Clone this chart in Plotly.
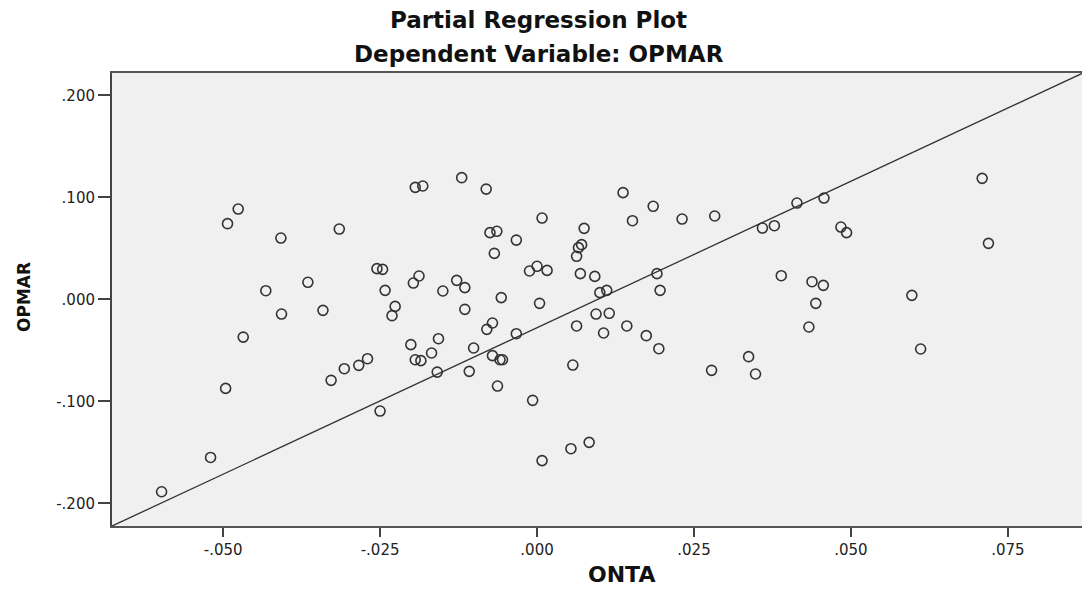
import plotly.graph_objects as go

# Partial regression residuals
onta = [-0.0476, -0.0493, -0.0408, -0.0432, -0.0407, -0.0468, -0.0496, -0.0520, -0.0598,
        -0.0315, -0.0194, -0.0182, -0.0120, -0.0081, 0.0008, -0.0075, -0.0064, -0.0033,
        -0.0068, -0.0365, -0.0255, -0.0246, -0.0188, -0.0197, -0.0242, -0.0128, -0.0115,
        -0.0150, -0.0057, 0.0004, -0.0012, 0.0000, 0.0016, -0.0341, -0.0226, -0.0231,
        -0.0115, 0.0063, -0.0071, -0.0080, -0.0033, -0.0201, -0.0157, -0.0168, -0.0101,
        -0.0270, -0.0284, -0.0307, -0.0328, -0.0194, -0.0185, -0.0071, -0.0059, -0.0055,
        -0.0159, -0.0108, -0.0063, 0.0057, -0.0007, -0.0250, 0.0054, 0.0008, 0.0137,
        0.0185, 0.0152, 0.0231, 0.0283, 0.0075, 0.0071, 0.0066, 0.0063, 0.0069, 0.0092,
        0.0191, 0.0100, 0.0111, 0.0196, 0.0359, 0.0378, 0.0414, 0.0457, 0.0484, 0.0493,
        0.0389, 0.0438, 0.0456, 0.0444, 0.0094, 0.0115, 0.0106, 0.0143, 0.0174, 0.0194,
        0.0433, 0.0278, 0.0337, 0.0348, 0.0083, 0.0709, 0.0719, 0.0597, 0.0611]
opmar = [0.0885, 0.0742, 0.0601, 0.0085, -0.0144, -0.0370, -0.0873, -0.1550, -0.1886,
         0.0689, 0.1098, 0.1111, 0.1193, 0.1081, 0.0797, 0.0654, 0.0667, 0.0581,
         0.0451, 0.0167, 0.0301, 0.0294, 0.0229, 0.0160, 0.0088, 0.0186, 0.0115,
         0.0082, 0.0017, -0.0039, 0.0278, 0.0324, 0.0284, -0.0108, -0.0069, -0.0160,
         -0.0098, -0.0261, -0.0232, -0.0294, -0.0337, -0.0444, -0.0386, -0.0526, -0.0477,
         -0.0582, -0.0647, -0.0680, -0.0794, -0.0592, -0.0601, -0.0552, -0.0592, -0.0592,
         -0.0713, -0.0706, -0.0850, -0.0644, -0.0990, -0.1095, -0.1464, -0.1581, 0.1046,
         0.0912, 0.0771, 0.0787, 0.0817, 0.0696, 0.0536, 0.0507, 0.0422, 0.0252, 0.0225,
         0.0252, 0.0066, 0.0088, 0.0088, 0.0699, 0.0722, 0.0944, 0.0993, 0.0709, 0.0654,
         0.0232, 0.0173, 0.0137, -0.0039, -0.0144, -0.0137, -0.0330, -0.0261, -0.0356, -0.0484,
         -0.0271, -0.0696, -0.0562, -0.0732, -0.1402, 0.1186, 0.0549, 0.0039, -0.0487]

# Fit line as drawn in the reference
fit_slope = 2.872
fit_intercept = -0.0278

x_range = [-0.0677, 0.0868]
y_range = [-0.2222, 0.2219]

x_tickvals = [-0.050, -0.025, 0.000, 0.025, 0.050, 0.075]
x_ticktext = ["-.050", "-.025", ".000", ".025", ".050", ".075"]
y_tickvals = [-0.200, -0.100, 0.000, 0.100, 0.200]
y_ticktext = ["-.200", "-.100", ".000", ".100", ".200"]

title_text = "Partial Regression Plot"
subtitle_text = "Dependent Variable: OPMAR"
x_title = "ONTA"
y_title = "OPMAR"

line_x = x_range
line_y = [fit_intercept + fit_slope * v for v in line_x]

fig = go.Figure()
fig.add_trace(go.Scatter(
    x=line_x, y=line_y, mode="lines",
    line=dict(color="#333333", width=1.3),
    hoverinfo="skip", showlegend=False,
))
fig.add_trace(go.Scatter(
    x=onta, y=opmar, mode="markers",
    marker=dict(symbol="circle-open", size=10, color="#333333", line=dict(width=1.6)),
    showlegend=False,
))

font_ticks = dict(family="DejaVu Sans", size=15, color="#222222")

fig.update_xaxes(
    range=x_range, tickvals=x_tickvals, ticktext=x_ticktext,
    showgrid=False, zeroline=False,
    showline=True, linecolor="#555555", linewidth=2, mirror=True,
    ticks="outside", ticklen=9, tickwidth=2, tickcolor="#444444",
    tickfont=font_ticks,
)
fig.update_yaxes(
    range=y_range, tickvals=y_tickvals, ticktext=y_ticktext,
    showgrid=False, zeroline=False,
    showline=True, linecolor="#444444", linewidth=2, mirror=False,
    ticks="outside", ticklen=12, tickwidth=1.5, tickcolor="#444444",
    tickfont=font_ticks,
)

fig.update_layout(
    width=1082, height=592,
    margin=dict(l=112, r=0, t=73, b=66),
    paper_bgcolor="white", plot_bgcolor="#F0F0F0",
    annotations=[
        dict(text="<b>" + title_text + "</b>", xref="paper", yref="paper",
             x=0.4402, y=1.116, xanchor="center", yanchor="middle", showarrow=False,
             font=dict(family="DejaVu Sans", size=23, color="#111111")),
        dict(text="<b>" + subtitle_text + "</b>", xref="paper", yref="paper",
             x=0.4402, y=1.041, xanchor="center", yanchor="middle", showarrow=False,
             font=dict(family="DejaVu Sans", size=23, color="#111111")),
        dict(text="<b>" + x_title + "</b>", xref="paper", yref="paper",
             x=0.525, y=-0.108, xanchor="center", yanchor="middle", showarrow=False,
             font=dict(family="DejaVu Sans", size=22, color="#111111")),
        dict(text="<b>" + y_title + "</b>", xref="paper", yref="paper",
             x=-0.0907, y=0.5055, xanchor="center", yanchor="middle", showarrow=False,
             textangle=-90,
             font=dict(family="DejaVu Sans", size=17, color="#111111")),
    ],
)

fig.write_html("out.html")
